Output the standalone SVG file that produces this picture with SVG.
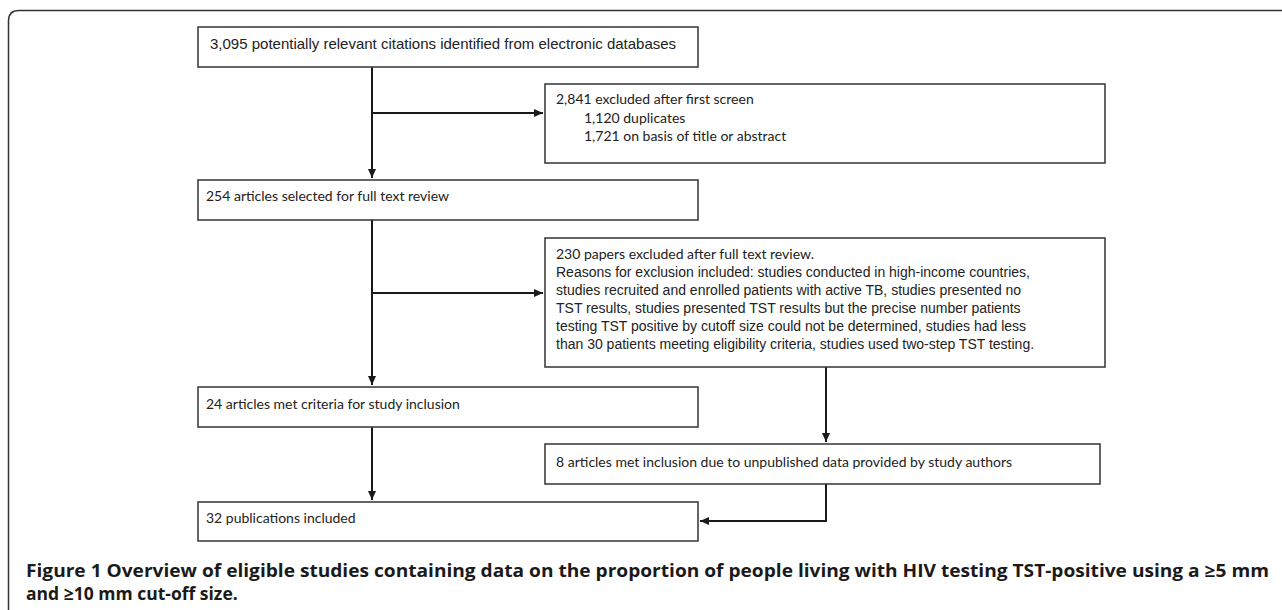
<svg xmlns="http://www.w3.org/2000/svg" width="1282" height="610" viewBox="0 0 1282 610">
<defs>
<marker id="ah" markerUnits="userSpaceOnUse" markerWidth="10" markerHeight="10" refX="9" refY="4" orient="auto">
<path d="M0,0 L9,4 L0,8 z" fill="#1a1a1a"/>
</marker>
<style>
.box{fill:#fff;stroke:#333;stroke-width:1.5}
.ar{font-family:"Liberation Sans",Arial,sans-serif;font-size:14px;fill:#222}
.ar1{font-family:"Liberation Sans",Arial,sans-serif;font-size:15px;fill:#222}
.ca{font-family:Lato,"Liberation Sans",sans-serif;font-size:14px;fill:#222}
.cn{fill:none;stroke:#1a1a1a;stroke-width:2}
.cap{font-family:"Open Sans","Liberation Sans",sans-serif;font-weight:700;font-size:17.5px;fill:#1a1a1a}
</style>
</defs>
<rect width="1282" height="610" fill="#fff"/>
<path d="M8.5,610 V21 Q8.5,10.5 19,10.5 H1282" fill="none" stroke="#333" stroke-width="1.5"/>

<g id="connectors">
<path class="cn" d="M372,67 V178" marker-end="url(#ah)"/>
<path class="cn" d="M372,113 H543" marker-end="url(#ah)"/>
<path class="cn" d="M372,220 V385" marker-end="url(#ah)"/>
<path class="cn" d="M372,293 H543" marker-end="url(#ah)"/>
<path class="cn" d="M826,367 V442" marker-end="url(#ah)"/>
<path class="cn" d="M372,427 V500" marker-end="url(#ah)"/>
<path class="cn" d="M826,484 V521 H700" marker-end="url(#ah)"/>
</g>

<g id="n1">
<rect class="box" x="198" y="27" width="500" height="40"/>
<text class="ar1" x="210" y="49">3,095 potentially relevant citations identified from electronic databases</text>
</g>
<g id="n2">
<rect class="box" x="545" y="84" width="560" height="79"/>
<text class="ca" x="556" y="104">2,841 excluded after first screen</text>
<text class="ca" x="584" y="123">1,120 duplicates</text>
<text class="ca" x="584" y="141">1,721 on basis of title or abstract</text>
</g>
<g id="n3">
<rect class="box" x="198" y="180" width="500" height="40"/>
<text class="ca" x="206" y="201">254 articles selected for full text review</text>
</g>
<g id="n4">
<rect class="box" x="545" y="238" width="560" height="129"/>
<text class="ca" x="556" y="259">230 papers excluded after full text review.</text>
<text class="ar" x="556" y="277">Reasons for exclusion included: studies conducted in high-income countries,</text>
<text class="ar" x="556" y="295">studies recruited and enrolled patients with active TB, studies presented no</text>
<text class="ar" x="556" y="313">TST results, studies presented TST results but the precise number patients</text>
<text class="ar" x="556" y="331">testing TST positive by cutoff size could not be determined, studies had less</text>
<text class="ar" x="556" y="349">than 30 patients meeting eligibility criteria, studies used two-step TST testing.</text>
</g>
<g id="n5">
<rect class="box" x="198" y="387" width="500" height="40"/>
<text class="ca" x="206" y="409">24 articles met criteria for study inclusion</text>
</g>
<g id="n6">
<rect class="box" x="545" y="444" width="555" height="40"/>
<text class="ca" x="556" y="467">8 articles met inclusion due to unpublished data provided by study authors</text>
</g>
<g id="n7">
<rect class="box" x="198" y="502" width="500" height="39"/>
<text class="ca" x="206" y="523">32 publications included</text>
</g>

<g id="caption">
<text class="cap" x="26" y="577" textLength="1243" lengthAdjust="spacingAndGlyphs">Figure 1 Overview of eligible studies containing data on the proportion of people living with HIV testing TST-positive using a ≥5 mm</text>
<text class="cap" x="26" y="600">and ≥10 mm cut-off size.</text>
</g>
</svg>
